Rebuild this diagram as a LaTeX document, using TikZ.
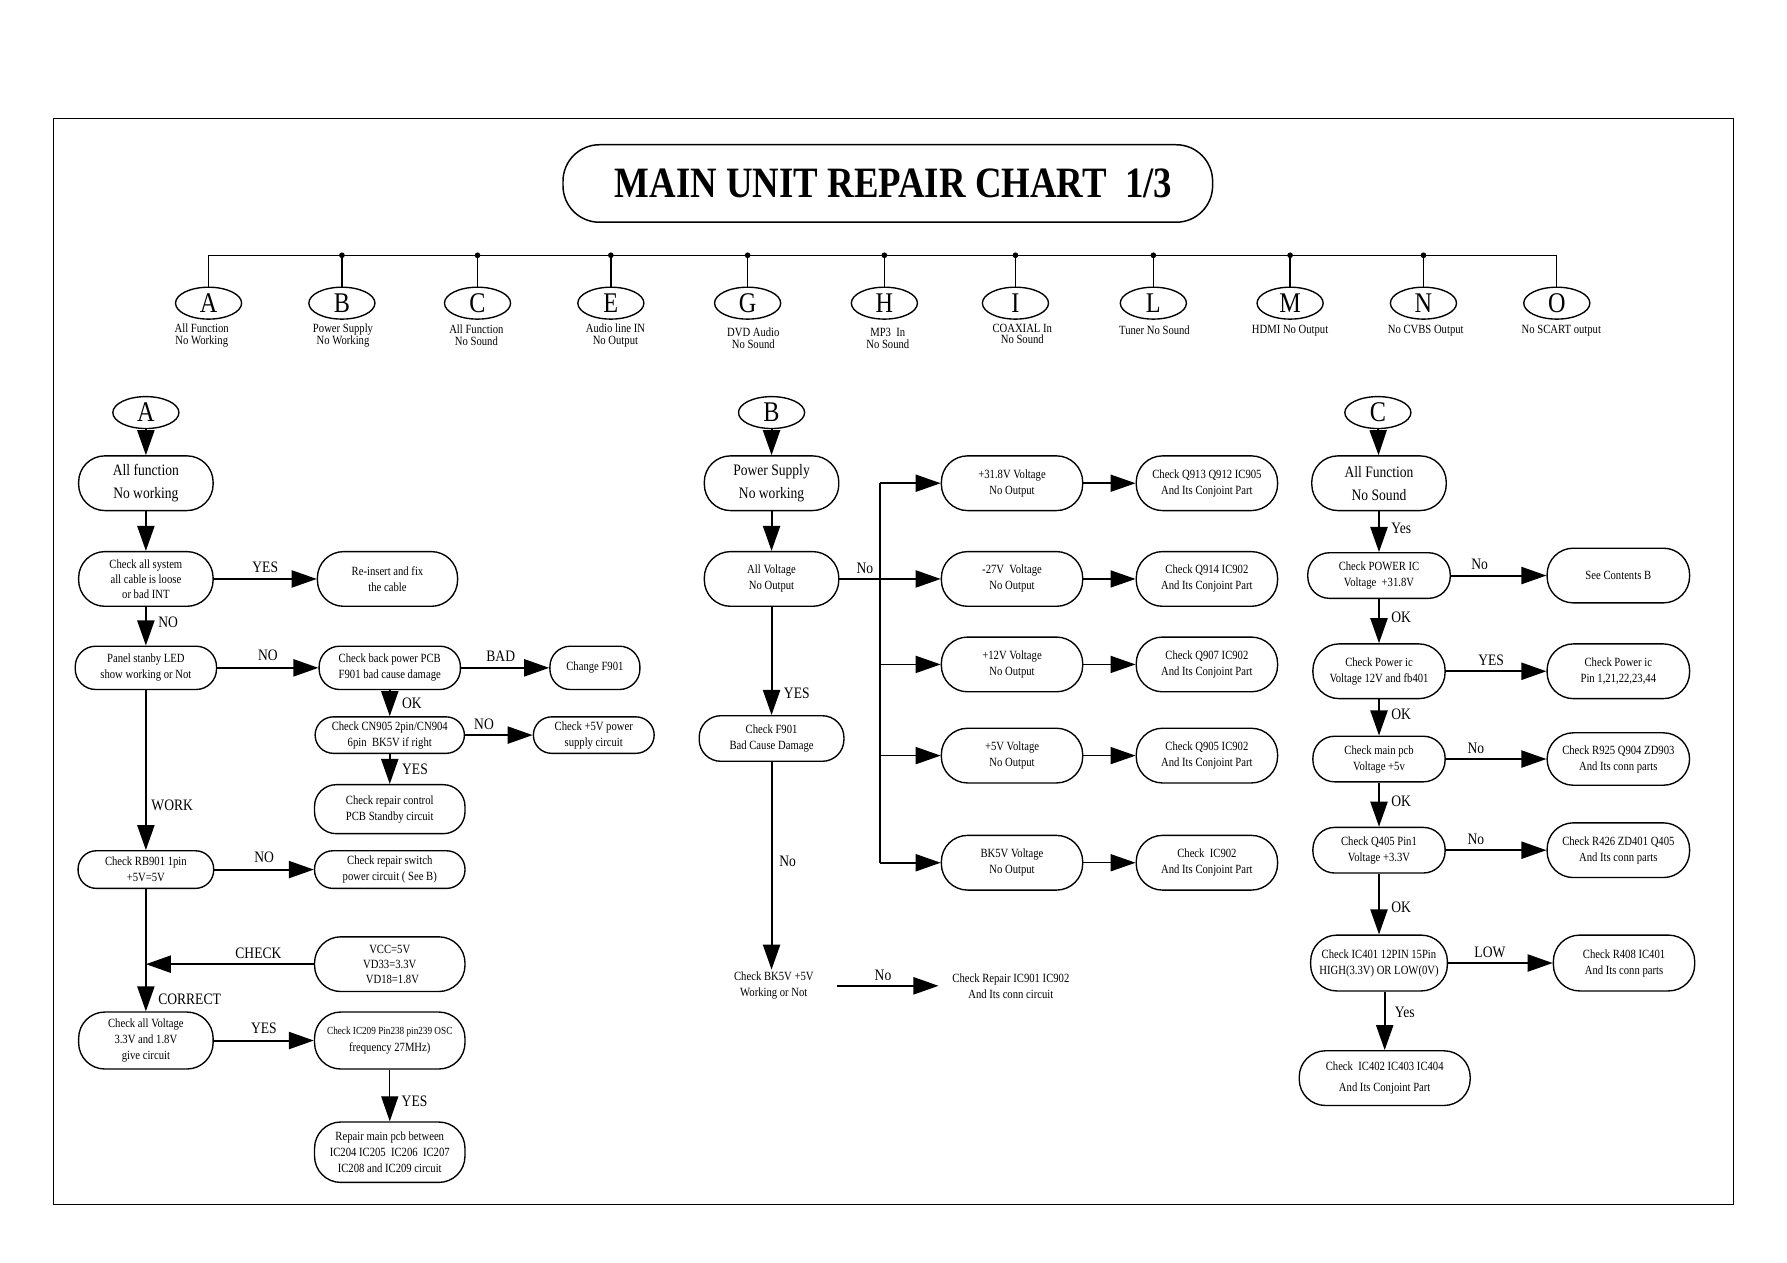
\documentclass[tikz,border=0pt]{standalone}
\usepackage{fontspec}
\setmainfont{Liberation Serif}[FakeStretch=0.85]
\usetikzlibrary{positioning, shapes.geometric, arrows.meta}

\tikzset{
	pill/.style={
			draw=black,
			line width=1.2pt,
			rounded corners=23pt,
			minimum width=124pt,
			minimum height=48pt,
			inner sep=1pt,
			align=center,
			font=\fontsize{11}{14}\selectfont
		},
	midpill/.style={pill, rounded corners=19pt, minimum height=40pt},
	slimpill/.style={pill, rounded corners=16pt, minimum height=33pt},
	bigtext/.style={font=\fontsize{14}{20}\selectfont},
	letter/.style={
			draw=black,
			line width=1.2pt,
			ellipse,
			minimum width=58pt,
			minimum height=28pt,
			inner sep=0pt,
			font=\fontsize{25}{25}\selectfont
		},
	plaintext/.style={align=center, inner sep=2pt, font=\fontsize{11}{14}\selectfont},
	tag/.style={align=center, inner sep=0pt, font=\fontsize{11}{10.5}\selectfont},
	lbl/.style={inner sep=2pt, font=\fontsize{14}{14}\selectfont},
	dot/.style={circle, fill=black, inner sep=0pt, minimum size=5pt},
	flow/.style={line width=1.8pt, -{Triangle[length=22pt,width=15pt]}},
	thinflow/.style={line width=1pt, -{Triangle[length=22pt,width=15pt]}}
}

\begin{document}
\begin{tikzpicture}[x=1pt, y=-1pt]
\useasboundingbox (0,0) rectangle (1568,1108);
\draw[line width=1.3pt] (47,104) rectangle (1521,1057);

% title and index
\node[draw, line width=1.3pt, rounded corners=32pt, minimum width=570pt, minimum height=68pt,
      font=\fontsize{38}{38}\selectfont\bfseries] (title) at (779,161) {\hspace*{10pt}MAIN UNIT REPAIR CHART\ \ 1/3};

\foreach \nm/\xx in {A/183,B/300,C/419,E/536,G/656,H/776,I/891,L/1012,M/1132,N/1249,O/1366}
  \node[letter] (t\nm) at (\xx,266) {\nm};

\coordinate (busL) at (183,224);
\coordinate (busR) at (1366,224);
\draw[line width=1.2pt] (tA) -- (busL) -- (busR) -- (tO);
\foreach \nm in {B,C,E,G,H,I,L,M,N}
  \draw[line width=1.2pt] (t\nm) -- (t\nm |- busL) node[dot] {};

\foreach \nm/\xx/\yy/\txt in {A/177/294/{All Function\\No Working}, B/301/294/{Power Supply\\No Working},
    C/418/294/{All Function\\No Sound}, E/540/294/{Audio line IN\\No Output}, G/661/297/{DVD Audio\\No Sound},
    H/779/297/{MP3\ \ In\\No Sound}, I/897/293/{COAXIAL In\\No Sound}, L/1013/290/{Tuner No Sound},
    M/1132/290/{HDMI No Output}, N/1251/290/{No CVBS Output}, O/1370/290/{No SCART output}}
  \node[tag] (l\nm) at (\xx,\yy) {\txt};

% A
\node[letter] (cA) at (128,362) {A};
\node[pill, bigtext, minimum width=118pt] (a1) at (128,424) {All function\\No working};
\node[pill, minimum width=118pt, font=\fontsize{11}{13}\selectfont] (a2) at (128,508) {Check all system\\all cable is loose\\or bad INT};
\node[pill, minimum width=123pt] (a3) at (340,508) {Re-insert and fix\\the cable};
\node[slimpill, minimum height=38pt, rounded corners=18pt] (a4) at (128,586) {Panel stanby LED\\show working or Not};
\node[slimpill, minimum height=38pt, rounded corners=18pt] (a5) at (342,586) {Check back power PCB\\F901 bad cause damage};
\node[slimpill, minimum height=38pt, rounded corners=18pt, minimum width=79pt] (a6) at (522,586) {Change F901};
\node[slimpill, minimum width=131pt, minimum height=32pt] (a7) at (342,645) {Check CN905 2pin/CN904\\6pin\ \ BK5V if right};
\node[slimpill, minimum width=106pt, minimum height=32pt] (a8) at (521,645) {Check +5V power\\supply circuit};
\node[midpill, minimum width=132pt, minimum height=43pt] (a9) at (342,710) {Check repair control\\PCB Standby circuit};
\node[slimpill, minimum width=119pt] (a10) at (128,763) {Check RB901 1pin\\+5V=5V};
\node[slimpill, minimum width=132pt] (a11) at (342,763) {Check repair switch\\power circuit ( See B)};
\node[pill, minimum width=132pt, font=\fontsize{11}{13}\selectfont] (a12) at (342,846) {VCC=5V\\VD33=3.3V\\\ \ VD18=1.8V};
\node[pill, minimum width=118pt, minimum height=50pt] (a13) at (128,913) {Check all Voltage\\3.3V and 1.8V\\give circuit};
\node[pill, minimum width=132pt, minimum height=50pt, font=\fontsize{9.5}{15}\selectfont] (a14) at (342,913) {Check IC209 Pin238 pin239 OSC\\{\fontsize{11}{15}\selectfont frequency 27MHz)}};
\node[pill, minimum width=132pt, minimum height=53pt] (a15) at (342,1011) {Repair main pcb between\\IC204 IC205\ \ IC206\ \ IC207\\IC208 and IC209 circuit};

\draw[flow] (cA) -- (a1);
\draw[flow] (a1) -- (a2);
\draw[flow] (a2) -- node[lbl, above=3pt] {YES} (a3);
\draw[flow] (a2) -- node[lbl, right=8pt, pos=0.4] {NO} (a4);
\draw[flow] (a4) -- node[lbl, above=3pt] {NO} (a5);
\draw[flow] (a5) -- node[lbl, above=3pt, pos=0.45] {BAD} (a6);
\draw[flow] (a5) -- node[lbl, right=8pt] {OK} (a7);
\draw[flow] (a7) -- node[lbl, above=2pt, pos=0.28] {NO} (a8);
\draw[flow] (a7) -- node[lbl, right=8pt] {YES} (a9);
\draw[flow] (a4) -- node[lbl, right=2pt, pos=0.72] {WORK} (a10);
\draw[flow] (a10) -- node[lbl, above=3pt] {NO} (a11);
\draw[flow] (a10) -- node[lbl, right=8pt, pos=0.9] {CORRECT} (a13);
\draw[flow] (a12) -- node[lbl, above=2pt, pos=0.33] {CHECK} (a12 -| a10);
\draw[flow] (a13) -- node[lbl, above=3pt] {YES} (a14);
\draw[thinflow] (a14) -- node[lbl, right=8pt, pos=0.62] {YES} (a15);

% B
\node[letter] (cB) at (677,362) {B};
\node[pill, bigtext, minimum width=118pt] (b1) at (677,424) {Power Supply\\No working};
\node[pill, minimum width=118pt] (b2) at (677,508) {All Voltage\\No Output};
\node[midpill, minimum width=127pt] (b3) at (677,648) {Check F901\\Bad Cause Damage};
\node[plaintext] (b4) at (679,865) {Check BK5V +5V\\Working or Not};
\node[plaintext] (b5) at (887,865) {Check Repair IC901 IC902\\And Its conn circuit};
\coordinate (bus) at (772,508);

\foreach \i/\yy/\vt/\kt in {1/424/{+31.8V Voltage}/{Check Q913 Q912 IC905}, 2/508/{-27V\ \ Voltage}/{Check Q914 IC902},
    3/583/{+12V Voltage}/{Check Q907 IC902}, 4/663/{+5V Voltage}/{Check Q905 IC902}, 5/757/{BK5V Voltage}/{Check\ \ IC902}} {
  \node[pill] (v\i) at (888,\yy) {\vt\\No Output};
  \node[pill] (k\i) at (1059,\yy) {\kt\\And Its Conjoint Part};
  \draw[thinflow, line width=1.3pt] (v\i) -- (k\i);
}

\draw[flow] (cB) -- (b1);
\draw[flow] (b1) -- (b2);
\draw[flow] (b2) -- node[lbl, above=2pt, pos=0.25] {No} (v2);
\draw[line width=1.5pt] (v1.west -| bus) -- (v5.west -| bus);
\foreach \v in {v1,v3,v4,v5}
  \draw[thinflow, line width=1.5pt] (\v.west -| bus) -- (\v);
\draw[flow] (b2) -- node[lbl, right=8pt, pos=0.8] {YES} (b3);
\draw[flow] (b3) -- node[lbl, right=4pt, pos=0.48] {No} (b3 |- b4.north);
\draw[flow, shorten <=18pt, shorten >=10pt] (b4) -- node[lbl, above=2pt] {No} (b5);

% C
\node[letter] (cC) at (1209,362) {C};
\node[pill, bigtext, minimum width=118pt] (c1) at (1210,424) {All Function\\No Sound};
\node[midpill, minimum width=125pt] (c2) at (1210,505) {Check POWER IC\\Voltage\ \ +31.8V};
\node[pill, minimum width=125pt] (c3) at (1420,505) {See Contents B};
\node[pill, minimum width=116pt] (c4) at (1210,589) {Check Power ic\\Voltage 12V and fb401};
\node[pill, minimum width=125pt] (c5) at (1420,589) {Check Power ic\\Pin 1,21,22,23,44};
\node[midpill, minimum width=116pt] (c6) at (1210,666) {Check main pcb\\Voltage +5v};
\node[pill, minimum width=125pt, minimum height=46pt] (c7) at (1420,666) {Check R925 Q904 ZD903\\And Its conn parts};
\node[midpill, minimum width=116pt] (c8) at (1210,746) {Check Q405 Pin1\\Voltage +3.3V};
\node[pill, minimum width=125pt] (c9) at (1420,746) {Check R426 ZD401 Q405\\And Its conn parts};
\node[pill, minimum width=120pt, minimum height=49pt] (c10) at (1210,845) {Check IC401 12PIN 15Pin\\HIGH(3.3V) OR LOW(0V)};
\node[pill, minimum width=124pt, minimum height=49pt] (c11) at (1425,845) {Check R408 IC401\\And Its conn parts};
\node[pill, minimum width=150pt, font=\fontsize{11}{18}\selectfont] (c12) at (1215,946) {Check\ \ IC402 IC403 IC404\\And Its Conjoint Part};

\draw[flow] (cC) -- (c1);
\draw[flow] (c1) -- node[lbl, right=8pt, pos=0.42] {Yes} (c2);
\draw[flow] (c2) -- node[lbl, above=2pt, pos=0.3] {No} (c3);
\draw[flow] (c2) -- node[lbl, right=8pt, pos=0.42] {OK} (c4);
\draw[flow] (c4) -- node[lbl, above=2pt, pos=0.45] {YES} (c5);
\draw[flow] (c4) -- node[lbl, right=8pt, pos=0.42] {OK} (c6);
\draw[flow] (c6) -- node[lbl, above=2pt, pos=0.3] {No} (c7);
\draw[flow] (c6) -- node[lbl, right=8pt, pos=0.42] {OK} (c8);
\draw[flow] (c8) -- node[lbl, above=2pt, pos=0.3] {No} (c9);
\draw[flow] (c8) -- node[lbl, right=8pt, pos=0.55] {OK} (c10);
\draw[flow] (c10) -- node[lbl, above=2pt, pos=0.4] {LOW} (c11);
\draw[flow] (c10.south -| c12) -- node[lbl, right=6pt, pos=0.35] {Yes} (c12);
\end{tikzpicture}
\end{document}
